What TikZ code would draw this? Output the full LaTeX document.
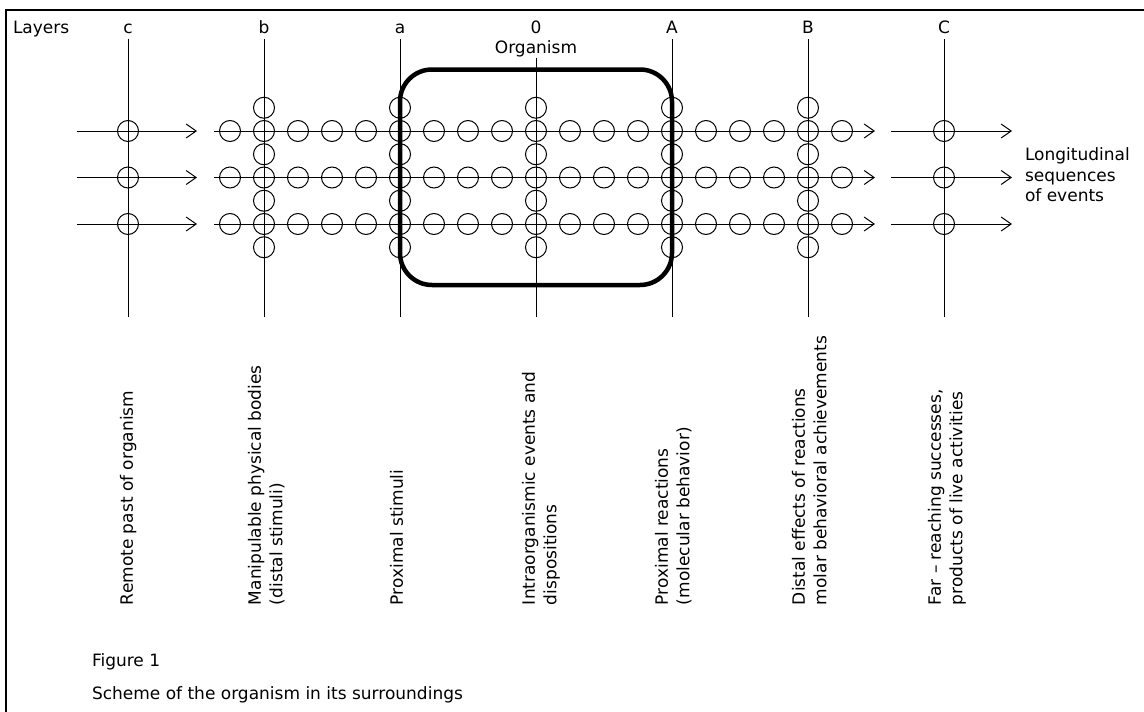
\documentclass[tikz,border=0pt]{standalone}
\usepackage{fontspec}
\setmainfont{DejaVu Sans}
\usetikzlibrary{arrows.meta}
\begin{document}
\begin{tikzpicture}[x=1pt, y=-1pt, line width=1pt,
  every node/.style={inner sep=0pt, outer sep=0pt, font=\fontsize{17}{21.5}\selectfont},
  bead/.style={circle, draw, minimum size=21pt},
  flow/.style={-{Straight Barb[length=10pt, width=14pt]}},
  vlabel/.style={rotate=90, anchor=north west, align=left},
  orgbox/.style={draw, line width=4.5pt, rounded corners=32pt,
                 minimum width=272pt, minimum height=215.5pt}]
\useasboundingbox (0,0) rectangle (1144,712);

% frame: top and left rules
\draw[line width=2pt] (6,712) -- (6,10) -- (1144,10);

% layer axes
\foreach \n/\x/\t in {c/128/39, b/264/39, a/400/39, o/536/58, A/672/39, B/808/39, C/944/39} {
  \coordinate (\n-top) at (\x,\t);
  \coordinate (\n-bot) at (\x,317);
  \draw (\n-top) -- (\n-bot);
}

% longitudinal sequences with their events
\foreach \r/\y in {1/131, 2/177.5, 3/224} {
  \coordinate (L\r)  at (77,\y);  \coordinate (Lt\r) at (197,\y);
  \coordinate (M\r)  at (214,\y); \coordinate (Mt\r) at (875,\y);
  \coordinate (R\r)  at (891,\y); \coordinate (Rt\r) at (1012,\y);
  \draw[flow] (L\r) -- (Lt\r);
  \draw[flow] (M\r) -- (Mt\r);
  \draw[flow] (R\r) -- (Rt\r);
  \foreach \k in {0,...,18}
    \node[bead] (bead-\r-\k) at ({230+34*\k},\y) {};
  \node[bead] (bead-\r-c) at (128,\y) {};
  \node[bead] (bead-\r-C) at (944,\y) {};
}

% events stacked along the inner layers
\foreach \x in {264,400,536,672,808}
  \foreach \j in {0,1,2,3}
    \node[bead] (stack-\x-\j) at (\x,{107.75+46.5*\j}) {};

% the organism
\node[orgbox] (organism-box) at (536,177.25) {};

% headings
\node[anchor=base west] (layers) at (13,33) {Layers};
\foreach \n/\x/\s in {c/128/c, b/264/b, a/400/a, o/536/0, A/672/A, B/808/B, C/944/C}
  \node[anchor=base] (head-\n) at (\x,33) {\s};
\node[anchor=base] (organism) at (536,53) {Organism};
\node[anchor=north west, align=left, font=\fontsize{17}{20.5}\selectfont] (longi) at (1025,148)
  {Longitudinal\\sequences\\of events};

% layer descriptions
\node[vlabel] (lab-remote) at (120,605) {Remote past of organism};
\node[vlabel] (lab-manip)  at (248,605) {Manipulable physical bodies\\(distal stimuli)};
\node[vlabel] (lab-prox)   at (390,605) {Proximal stimuli};
\node[vlabel] (lab-intra)  at (522,605) {Intraorganismic events and\\dispositions};
\node[vlabel] (lab-react)  at (655,605) {Proximal reactions\\(molecular behavior)};
\node[vlabel] (lab-distal) at (792,605) {Distal effects of reactions\\molar behavioral achievements};
\node[vlabel] (lab-far)    at (928,605) {Far – reaching successes,\\products of live activities};

% caption
\node[anchor=base west] (fig) at (92,666) {Figure 1};
\node[anchor=base west] (caption) at (92,699) {Scheme of the organism in its surroundings};
\end{tikzpicture}
\end{document}
